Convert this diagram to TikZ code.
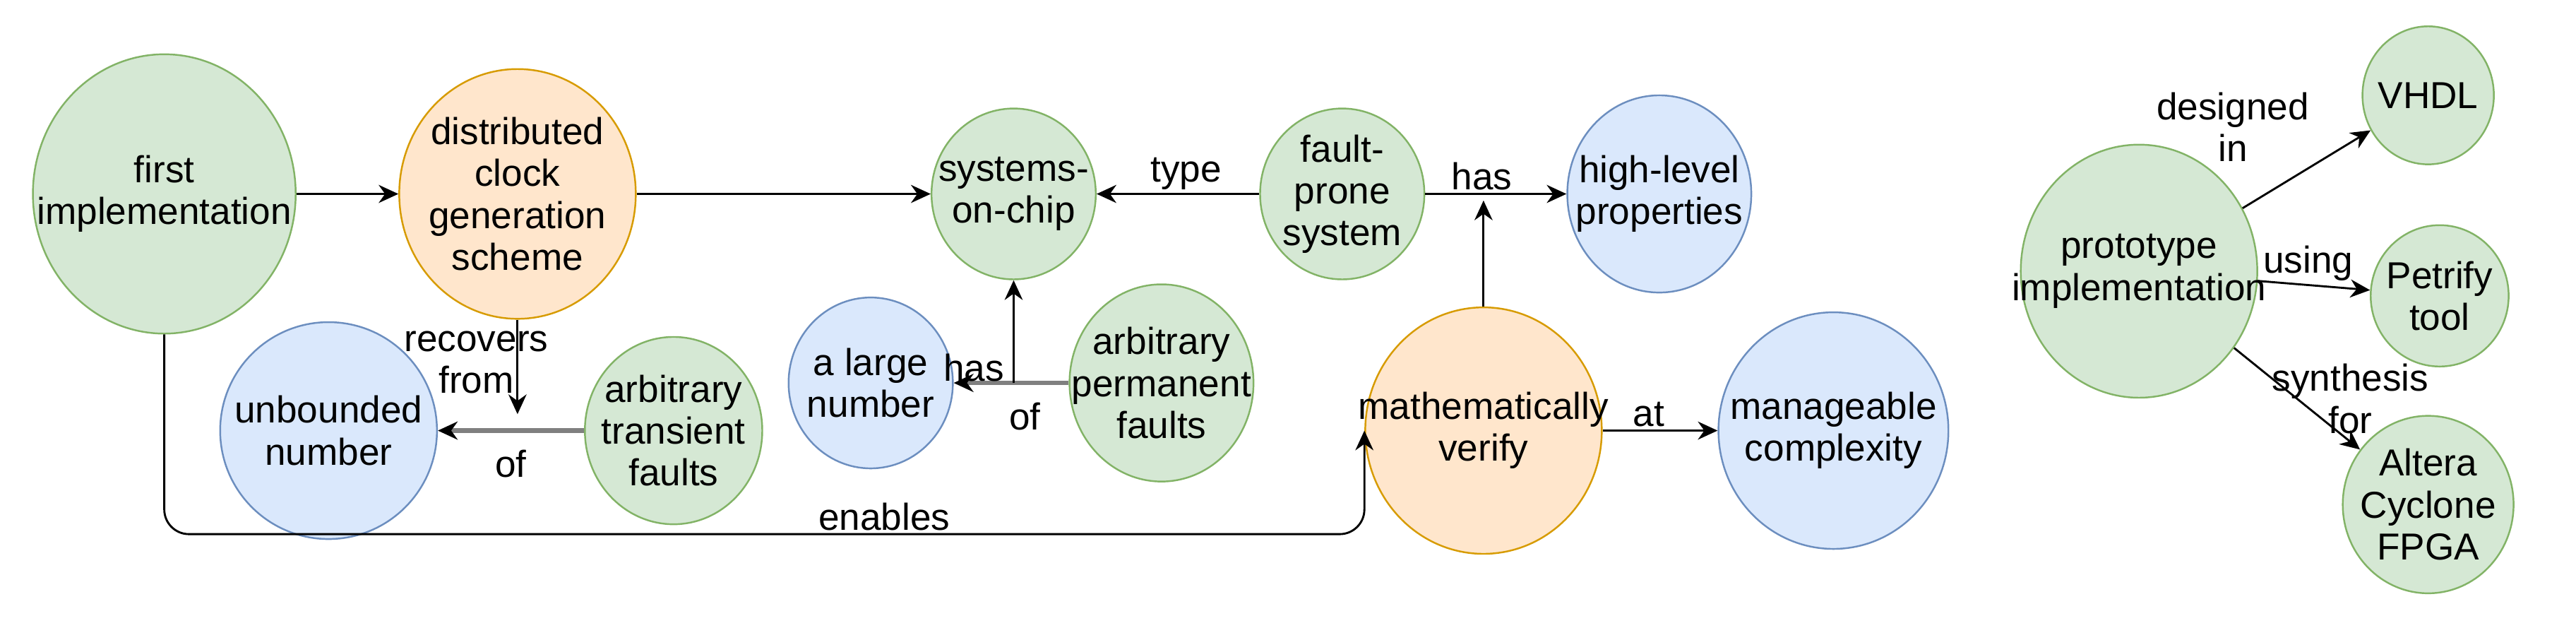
\documentclass[tikz,border=0pt]{standalone}
\usepackage{fontspec}
\setmainfont{Liberation Sans}
\usetikzlibrary{shapes.geometric,arrows.meta}
\definecolor{gfill}{HTML}{D5E8D4}\definecolor{gline}{HTML}{82B366}
\definecolor{ofill}{HTML}{FFE6CC}\definecolor{oline}{HTML}{D79B00}
\definecolor{bfill}{HTML}{DAE8FC}\definecolor{bline}{HTML}{6C8EBF}
\tikzset{
  lbl/.style={font=\fontsize{13}{14.5}\selectfont, align=center, inner sep=1pt},
  blob/.style={ellipse, inner sep=0pt, line width=0.6pt, label={[lbl]center:#1}},
  green/.style={blob=#1, fill=gfill, draw=gline},
  orange/.style={blob=#1, fill=ofill, draw=oline},
  blue/.style={blob=#1, fill=bfill, draw=bline},
  rel/.style={-{Stealth[length=2.4mm,width=2.2mm]}, line width=0.7pt},
  weak/.style={-{Stealth[length=2.4mm,width=2.2mm,color=black]}, draw=gray, line width=1.6pt}
}
\begin{document}
\begin{tikzpicture}[x=0.02cm,y=-0.02cm]
  \useasboundingbox (0,0) rectangle (1568,389);

  \node[green={first\\implementation}, minimum width=3.2cm, minimum height=3.4cm] (first) at (100,118) {};
  \node[orange={distributed\\clock\\generation\\scheme}, minimum width=2.88cm, minimum height=3.04cm] (clock) at (315,118) {};
  \node[green={systems-\\on-chip}, minimum width=2cm, minimum height=2.08cm] (soc) at (617,118) {};
  \node[green={fault-\\prone\\system}, minimum width=2cm, minimum height=2.08cm] (fault) at (817,118) {};
  \node[blue={high-level\\properties}, minimum width=2.24cm, minimum height=2.4cm] (props) at (1010,118) {};
  \node[blue={a large\\number}, minimum width=2cm, minimum height=2.08cm] (large) at (530,233) {};
  \node[green={arbitrary\\permanent\\faults}, minimum width=2.24cm, minimum height=2.4cm] (perm) at (707,233) {};
  \node[blue={unbounded\\number}, minimum width=2.64cm, minimum height=2.64cm] (unbnd) at (200,262) {};
  \node[green={arbitrary\\transient\\faults}, minimum width=2.16cm, minimum height=2.28cm] (trans) at (410,262) {};
  \node[orange={mathematically\\verify}, minimum width=2.88cm, minimum height=3cm] (verify) at (903,262) {};
  \node[blue={manageable\\complexity}, minimum width=2.8cm, minimum height=2.88cm] (manage) at (1116,262) {};

  \node[green={prototype\\implementation}, minimum width=2.88cm, minimum height=3.08cm] (proto) at (1302,165) {};
  \node[green={VHDL}, minimum width=1.6cm, minimum height=1.68cm] (vhdl) at (1478,58) {};
  \node[green={Petrify\\tool}, minimum width=1.68cm, minimum height=1.72cm] (petrify) at (1485,180) {};
  \node[green={Altera\\Cyclone\\FPGA}, minimum width=2.08cm, minimum height=2.16cm] (altera) at (1478,307) {};

  \coordinate (j1) at (315,252);
  \coordinate (j2) at (617,233);
  \coordinate (hit) at (903,122);
  \coordinate (low) at (0,325);

  \draw[rel] (first) -- (clock);
  \draw[rel] (clock) -- (soc);
  \draw[rel] (fault) -- node[lbl, above, pos=0.45]{type} (soc);
  \draw[rel] (fault) -- node[lbl, above, pos=0.4]{has} (props);
  \draw[rel] (verify) -- (hit);
  \draw[rel] (verify) -- node[lbl, above, pos=0.4]{at} (manage);

  \draw[weak] (trans) -- node[lbl, below=5pt, pos=0.5]{of} (unbnd);
  \draw[rel] (clock) -- node[lbl, left=-12pt, pos=0.45]{recovers\\from} (j1);
  \draw[weak] (perm) -- node[lbl, below=5pt, pos=0.38]{of} (large);
  \draw[rel] (j2) -- node[lbl, left=2pt, pos=0.15]{has} (soc);

  \draw[rel, rounded corners=0.3cm] (first.south) |- node[lbl, above, pos=0.8]{enables} (verify.west |- low) -- (verify.west);

  \draw[rel] (proto) -- node[lbl, anchor=south east, pos=0.55]{designed\\in} (vhdl);
  \draw[rel] (proto) -- node[lbl, above, pos=0.45]{using} (petrify);
  \draw[rel] (proto) -- node[lbl, right=-10pt, pos=0.5]{synthesis\\for} (altera);
\end{tikzpicture}
\end{document}
